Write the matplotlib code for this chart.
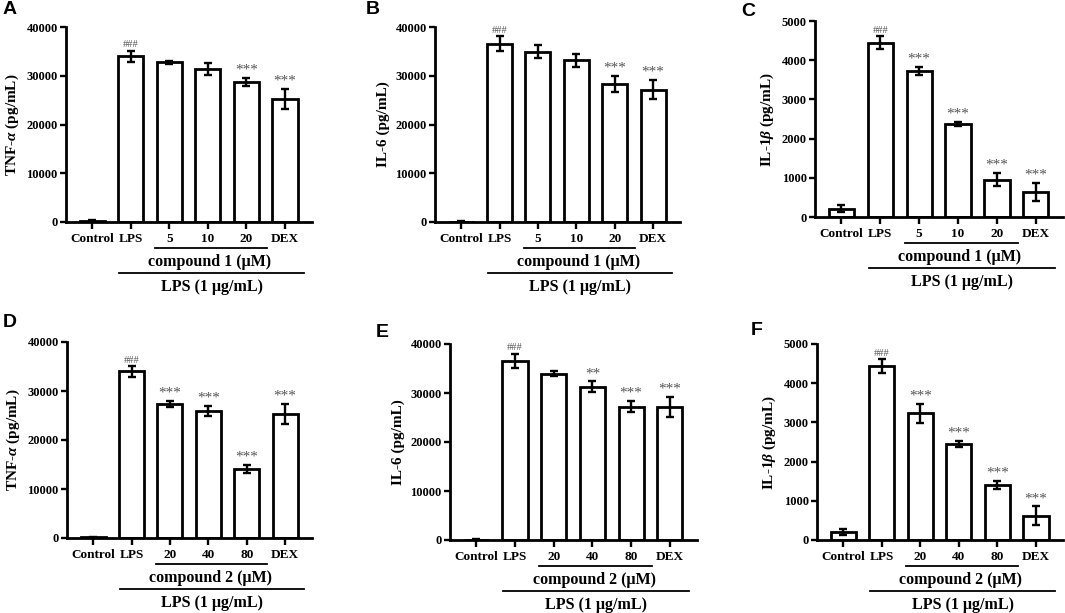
import numpy as np
import matplotlib
matplotlib.use("Agg")
import matplotlib.pyplot as plt
import matplotlib.transforms as mtransforms

plt.rcParams['font.family'] = ['Liberation Serif', 'DejaVu Serif']
plt.rcParams['font.weight'] = 'bold'
plt.rcParams['mathtext.fontset'] = 'custom'
plt.rcParams['mathtext.rm'] = 'Liberation Serif:bold'
plt.rcParams['mathtext.it'] = 'Liberation Serif:italic:bold'
plt.rcParams['mathtext.bf'] = 'Liberation Serif:bold'

# data
labels_c1 = ["Control", "LPS", "5", "10", "20", "DEX"]
labels_c2 = ["Control", "LPS", "20", "40", "80", "DEX"]

tnf_c1 = [200, 34000, 32750, 31450, 28750, 25250]
tnf_c1_err = [150, 1150, 250, 1200, 750, 2050]
tnf_c1_sig = ["", "###", "", "", "***", "***"]

il6_c1 = [100, 36600, 34900, 33150, 28400, 27150]
il6_c1_err = [100, 1500, 1350, 1400, 1650, 1900]
il6_c1_sig = ["", "###", "", "", "***", "***"]

il1b_c1 = [210, 4450, 3730, 2380, 950, 630]
il1b_c1_err = [85, 165, 100, 50, 170, 230]
il1b_c1_sig = ["", "###", "***", "***", "***", "***"]

tnf_c2 = [150, 34000, 27300, 25850, 14100, 25300]
tnf_c2_err = [150, 1100, 600, 1000, 750, 2050]
tnf_c2_sig = ["", "###", "***", "***", "***", "***"]

il6_c2 = [100, 36600, 33950, 31250, 27200, 27150]
il6_c2_err = [100, 1450, 550, 1100, 1150, 2050]
il6_c2_sig = ["", "###", "", "**", "***", "***"]

il1b_c2 = [200, 4440, 3230, 2450, 1400, 620]
il1b_c2_err = [85, 170, 250, 75, 110, 235]
il1b_c2_sig = ["", "###", "***", "***", "***", "***"]

W, H = 1065, 613
fig = plt.figure(figsize=(W / 100, H / 100), dpi=100)


def add_panel(px_left, px_right, px_top, px_bottom, vals, errs, sigs, xlabels,
              ylabel, ymax, ystep, compound, letter, letter_xy):
    ax = fig.add_axes([px_left / W, 1 - px_bottom / H,
                       (px_right - px_left) / W, (px_bottom - px_top) / H])
    x = np.arange(len(vals))
    ax.bar(x, vals, width=0.65, color="white", edgecolor="black", linewidth=2.0, zorder=2)
    ax.errorbar(x, vals, yerr=errs, fmt="none", ecolor="black", elinewidth=1.7,
                capsize=3.2, capthick=1.7, zorder=3)
    for xi, v, e, s in zip(x, vals, errs, sigs):
        if s:
            fs = 7.5 if s.startswith("#") else 11
            ax.annotate(s, (xi, v + e), xytext=(0, 1), textcoords="offset points",
                        ha="center", va="bottom", fontsize=fs, color="#555555",
                        fontweight="normal")
    ax.set_xlim(-0.68, 5.7)
    ax.set_ylim(0, ymax)
    ax.set_yticks(np.arange(0, ymax + 1, ystep))
    ax.set_xticks(x)
    ax.set_xticklabels(xlabels, fontsize=9.5, fontweight="bold")
    ax.tick_params(axis="y", labelsize=9, width=1.7, length=4, pad=2)
    ax.tick_params(axis="x", width=1.7, length=5, pad=3)
    for lab in ax.get_yticklabels():
        lab.set_fontweight("bold")
    ax.set_ylabel(ylabel, fontsize=11, fontweight="bold", labelpad=4)
    for sp in ["top", "right"]:
        ax.spines[sp].set_visible(False)
    for sp in ["left", "bottom"]:
        ax.spines[sp].set_linewidth(2.0)

    h = px_bottom - px_top
    tr = mtransforms.blended_transform_factory(ax.transData, ax.transAxes)
    ax.plot([1.63, 4.53], [-26 / h] * 2, color="black", lw=1.3, transform=tr, clip_on=False)
    ax.text(3.05, -40 / h, compound, transform=tr, ha="center", va="center",
            fontsize=11.5, fontweight="bold")
    ax.plot([0.7, 5.5], [-51 / h] * 2, color="black", lw=1.3, transform=tr, clip_on=False)
    ax.text(3.1, -65 / h, "LPS (1 μg/mL)", transform=tr, ha="center", va="center",
            fontsize=11.5, fontweight="bold")

    fig.text(letter_xy[0] / W, 1 - letter_xy[1] / H, letter, fontsize=14,
             fontweight="bold", family="Liberation Sans", ha="left", va="top")
    return ax


add_panel(66, 312, 27, 222, tnf_c1, tnf_c1_err, tnf_c1_sig, labels_c1,
          "TNF-$\\mathit{\\alpha}$ (pg/mL)", 40000, 10000, "compound 1 (μM)", "A", (3, 1))
add_panel(435, 680, 27, 222, il6_c1, il6_c1_err, il6_c1_sig, labels_c1,
          "IL-6 (pg/mL)", 40000, 10000, "compound 1 (μM)", "B", (366, 1))
add_panel(815, 1063, 21, 217, il1b_c1, il1b_c1_err, il1b_c1_sig, labels_c1,
          "IL-1$\\mathit{\\beta}$ (pg/mL)", 5000, 1000, "compound 1 (μM)", "C", (741, 3))
add_panel(67, 312, 342, 538, tnf_c2, tnf_c2_err, tnf_c2_sig, labels_c2,
          "TNF-$\\mathit{\\alpha}$ (pg/mL)", 40000, 10000, "compound 2 (μM)", "D", (3, 314))
add_panel(450, 697, 344, 540, il6_c2, il6_c2_err, il6_c2_sig, labels_c2,
          "IL-6 (pg/mL)", 40000, 10000, "compound 2 (μM)", "E", (376, 324))
add_panel(817, 1063, 344, 540, il1b_c2, il1b_c2_err, il1b_c2_sig, labels_c2,
          "IL-1$\\mathit{\\beta}$ (pg/mL)", 5000, 1000, "compound 2 (μM)", "F", (751, 322))

fig.savefig("out.png", dpi=100)
